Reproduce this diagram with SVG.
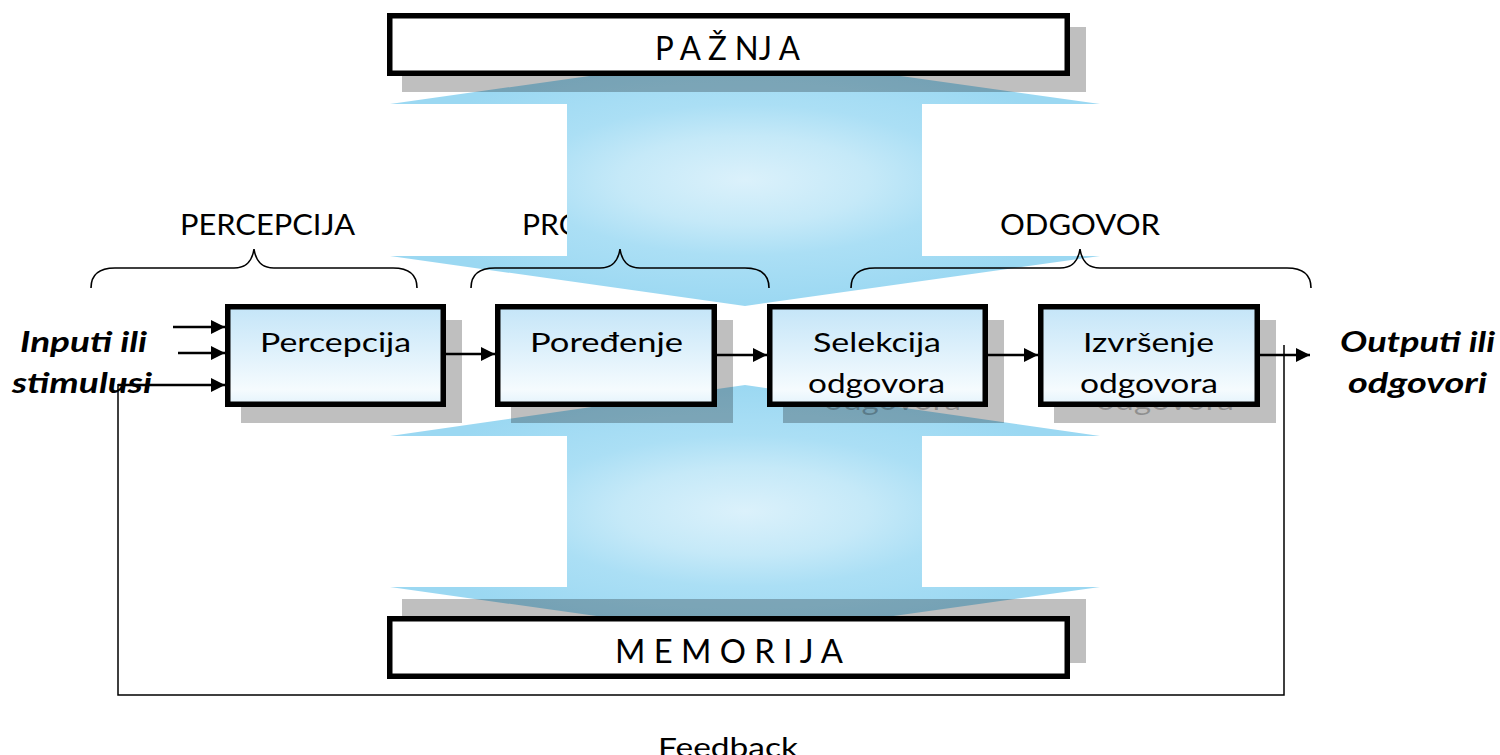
<svg xmlns="http://www.w3.org/2000/svg" width="1500" height="755" viewBox="0 0 1500 755">
<defs>
<style>
.t{font-family:Lato,"Open Sans","Liberation Sans",sans-serif;fill:#000}
.lbl{font-size:29px}
.bx{font-size:27.5px}
.big{font-size:32px}
.io{font-size:29px;font-weight:bold;font-style:italic}
.box{stroke:#000;stroke-width:5.5;fill:url(#boxg)}
.wbox{stroke:#000;stroke-width:5.5;fill:#fff}
.sh{fill:#000;fill-opacity:0.25}
.sht{font-family:Lato,"Open Sans","Liberation Sans",sans-serif;font-size:27.5px;fill:#000;fill-opacity:0.25}
.brace{fill:none;stroke:#000;stroke-width:1.6}
.ar{stroke:#000;stroke-width:2.5;fill:none;marker-end:url(#ah)}
.fb{stroke:#000;stroke-width:1.5;fill:none}
</style>
<linearGradient id="boxg" x1="0" y1="0" x2="0" y2="1">
<stop offset="0" stop-color="#c4e5f8"/>
<stop offset="0.85" stop-color="#f5fbfe"/>
<stop offset="1" stop-color="#e4f3fc"/>
</linearGradient>
<radialGradient id="blu" cx="0.5" cy="0.5" r="0.5">
<stop offset="0" stop-color="#dbf1fb"/>
<stop offset="0.35" stop-color="#c5e9f8"/>
<stop offset="0.6" stop-color="#abdff5"/>
<stop offset="1" stop-color="#9bd8f2"/>
</radialGradient>
<marker id="ah" markerUnits="userSpaceOnUse" markerWidth="15" markerHeight="15" refX="14" refY="7" orient="auto">
<path d="M0,0 L14,7 L0,14 z" fill="#000"/>
</marker>
</defs>

<g id="phase-labels">
<text class="t lbl" x="180" y="235" textLength="175" lengthAdjust="spacingAndGlyphs">PERCEPCIJA</text>
<text class="t lbl" x="522" y="235" textLength="215" lengthAdjust="spacingAndGlyphs">PROCESIRANJE</text>
<text class="t lbl" x="1000" y="235" textLength="160" lengthAdjust="spacingAndGlyphs">ODGOVOR</text>
</g>

<g id="attention-arrow">
<path fill="url(#blu)" d="M745,54 L1100,104 L922,104 L922,256 L1100,256 L745,306 L390,256 L567,256 L567,104 L390,104 Z"/>
</g>
<g id="memory-arrow">
<path fill="url(#blu)" d="M745,385 L1100,436 L922,436 L922,587 L1100,587 L745,637 L390,587 L567,587 L567,436 L390,436 Z"/>
</g>

<g id="braces">
<path class="brace" d="M91,288 C91,276 97,268 115,268 L234,268 C246,268 252,262 254,249 C256,262 262,268 274,268 L393,268 C411,268 417,276 417,288"/>
<path class="brace" d="M471,288 C471,276 477,268 495,268 L600,268 C612,268 618,262 620,249 C622,262 628,268 640,268 L745,268 C763,268 769,276 769,288"/>
<path class="brace" d="M851,288 C851,276 857,268 875,268 L1060,268 C1072,268 1078,262 1080,249 C1082,262 1088,268 1100,268 L1287,268 C1305,268 1311,276 1311,288"/>
</g>

<g id="pazhnja">
<rect class="sh" x="402" y="27" width="684" height="65"/>
<rect class="wbox" x="389.75" y="15.75" width="677.5" height="57.5"/>
<text class="t big" x="655" y="60" textLength="145" lengthAdjust="spacingAndGlyphs">P A Ž NJ A</text>
</g>

<g id="memorija">
<rect class="sh" x="402" y="599" width="684" height="64"/>
<rect class="wbox" x="389.75" y="618.75" width="677.5" height="57.5"/>
<text class="t big" x="615" y="663" textLength="228" lengthAdjust="spacingAndGlyphs">M E M O R I J A</text>
</g>

<g id="node-percepcija">
<rect class="sh" x="241" y="320" width="221" height="103"/>
<rect class="box" x="227.75" y="306.75" width="215.5" height="97.5"/>
<text class="t bx" x="260" y="352" textLength="151" lengthAdjust="spacingAndGlyphs">Percepcija</text>
</g>

<g id="node-poredjenje">
<rect class="sh" x="511" y="320" width="222" height="103"/>
<rect class="box" x="497.75" y="306.75" width="216.5" height="97.5"/>
<text class="t bx" x="530" y="352" textLength="153" lengthAdjust="spacingAndGlyphs">Poređenje</text>
</g>

<g id="node-selekcija">
<rect class="sh" x="783" y="320" width="221" height="103"/>
<text class="sht" x="824" y="410" textLength="137" lengthAdjust="spacingAndGlyphs">odgovora</text>
<rect class="box" x="769.75" y="306.75" width="215.5" height="97.5"/>
<text class="t bx" x="813" y="352" textLength="128" lengthAdjust="spacingAndGlyphs">Selekcija</text>
<text class="t bx" x="808" y="393" textLength="137" lengthAdjust="spacingAndGlyphs">odgovora</text>
</g>

<g id="node-izvrsenje">
<rect class="sh" x="1054" y="320" width="222" height="103"/>
<text class="sht" x="1096" y="410" textLength="138" lengthAdjust="spacingAndGlyphs">odgovora</text>
<rect class="box" x="1040.75" y="306.75" width="216.5" height="97.5"/>
<text class="t bx" x="1083" y="352" textLength="131" lengthAdjust="spacingAndGlyphs">Izvršenje</text>
<text class="t bx" x="1080" y="393" textLength="138" lengthAdjust="spacingAndGlyphs">odgovora</text>
</g>

<g id="connectors">
<line class="ar" x1="173" y1="327" x2="225" y2="327"/>
<line class="ar" x1="178" y1="353" x2="225" y2="353"/>
<line class="ar" x1="118" y1="385" x2="225" y2="385"/>
<line class="ar" x1="446" y1="354" x2="495" y2="354"/>
<line class="ar" x1="717" y1="355" x2="767" y2="355"/>
<line class="ar" x1="988" y1="355" x2="1038" y2="355"/>
<line class="ar" x1="1260" y1="355" x2="1310" y2="355"/>
<polyline class="fb" points="1284,345 1284,695 118,695 118,384"/>
</g>

<g id="io-labels">
<text class="t io" x="20" y="352" textLength="127" lengthAdjust="spacingAndGlyphs">Inputi ili</text>
<text class="t io" x="12" y="393" textLength="140" lengthAdjust="spacingAndGlyphs">stimulusi</text>
<text class="t io" x="1340" y="352" textLength="155" lengthAdjust="spacingAndGlyphs">Outputi ili</text>
<text class="t io" x="1348" y="393" textLength="139" lengthAdjust="spacingAndGlyphs">odgovori</text>
<text class="t bx" x="658" y="757" textLength="140" lengthAdjust="spacingAndGlyphs">Feedback</text>
</g>
</svg>
